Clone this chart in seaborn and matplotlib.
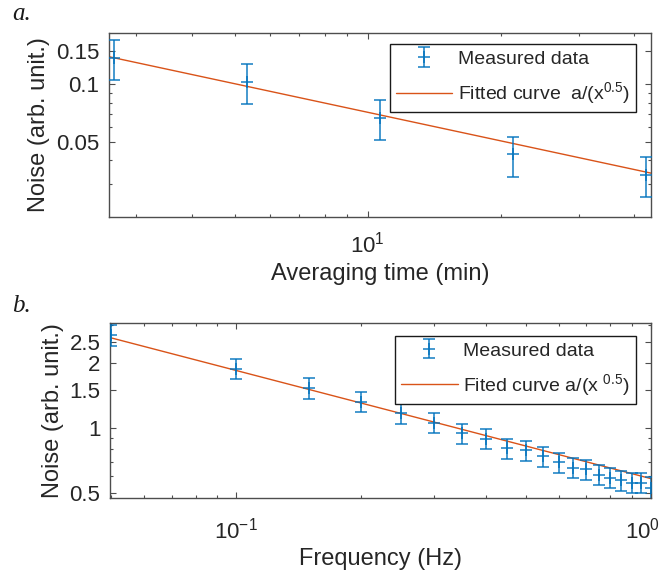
import numpy as np
import pandas as pd
import matplotlib
matplotlib.use("Agg")
import matplotlib.pyplot as plt
import matplotlib.ticker as mticker
import matplotlib.transforms as mtransforms
import seaborn as sns

# ---- data ----
time_a = [2.667, 5.333, 10.667, 21.333, 42.667]
noise_a = [0.138, 0.103, 0.0669, 0.043, 0.0336]
err_a = [0.033, 0.024, 0.0158, 0.0102, 0.0081]
fit_x_a = [2.6, 43.7]
fit_y_a = [0.1395, 0.0342]

freq_b = [0.05, 0.10, 0.15, 0.20, 0.25, 0.30, 0.35, 0.40, 0.45, 0.50,
          0.55, 0.60, 0.65, 0.70, 0.75, 0.80, 0.85, 0.90, 0.95, 1.00]
noise_b = [2.71, 1.886, 1.535, 1.327, 1.171, 1.062, 0.948, 0.894, 0.807, 0.792,
           0.742, 0.697, 0.657, 0.645, 0.610, 0.590, 0.575, 0.560, 0.560, 0.527]
err_b = [0.30, 0.20, 0.169, 0.141, 0.125, 0.115, 0.102, 0.095, 0.088, 0.084,
         0.080, 0.074, 0.070, 0.068, 0.064, 0.063, 0.061, 0.060, 0.060, 0.066]
fit_x_b = [0.05, 1.0]
fit_y_b = [2.62, 0.585]

yticks_a = [0.05, 0.1, 0.15]
yticklabels_a = ["0.05", "0.1", "0.15"]
xticks_a = [10]
xticklabels_a = ["$10^{1}$"]
yticks_b = [0.5, 1, 1.5, 2, 2.5]
yticklabels_b = ["0.5", "1", "1.5", "2", "2.5"]
xticks_b = [0.1, 1.0]
xticklabels_b = ["$10^{-1}$", "$10^{0}$"]

sns.set_theme(style="ticks")
plt.rcParams["font.family"] = ["Liberation Sans", "DejaVu Sans"]
plt.rcParams["mathtext.fontset"] = "custom"
plt.rcParams["mathtext.rm"] = "Liberation Sans"
plt.rcParams["mathtext.it"] = "Liberation Sans:italic"
plt.rcParams["mathtext.default"] = "regular"

BLUE = "#0072BD"
ORANGE = "#D95319"
AXC = "0.15"

fig = plt.figure(figsize=(6.63, 5.77), dpi=100)
ax_a = fig.add_axes([0.1644, 0.6244, 0.8175, 0.3178])
ax_b = fig.add_axes([0.1659, 0.1364, 0.8155, 0.3033])


def style_axes(ax, xpad):
    ax.set_xscale("log")
    ax.set_yscale("log")
    for s in ax.spines.values():
        s.set_color("0.3")
        s.set_linewidth(1.0)
    ax.tick_params(which="both", direction="in", top=True, right=True,
                   colors="0.3", labelcolor=AXC, labelsize=16, width=0.8)
    ax.tick_params(which="major", length=4)
    ax.tick_params(which="minor", length=2.5)
    ax.tick_params(axis="y", which="both", pad=7)
    ax.tick_params(axis="x", which="both", pad=xpad)
    ax.xaxis.set_minor_locator(mticker.LogLocator(base=10, subs=np.arange(2, 10), numticks=20))
    ax.yaxis.set_minor_locator(mticker.LogLocator(base=10, subs=np.arange(2, 10), numticks=20))
    ax.xaxis.set_minor_formatter(mticker.NullFormatter())
    ax.yaxis.set_minor_formatter(mticker.NullFormatter())


style_axes(ax_a, 11)
style_axes(ax_b, 14)

leg_kw = dict(loc="upper right", borderaxespad=0, fontsize=14, frameon=True,
              fancybox=False, edgecolor="k", framealpha=1, handlelength=2.9,
              handletextpad=0.3, labelspacing=0.65, borderpad=0.3)

# ---- panel a ----
df_fit_a = pd.DataFrame({"x": fit_x_a, "y": fit_y_a})
ax_a.errorbar(time_a, noise_a, yerr=err_a, fmt="+", color=BLUE,
              ecolor=BLUE, elinewidth=1.2, capsize=4.4, capthick=1.2,
              markersize=8.5, markeredgewidth=1.2, alpha=0.85,
              label="Measured data", zorder=3)
sns.lineplot(data=df_fit_a, x="x", y="y", ax=ax_a, color=ORANGE, linewidth=1.0,
             label="Fitted curve  a/(x$^{0.5}$)", zorder=2)
ax_a.set_xlim(2.6, 43.7)
ax_a.set_ylim(0.0202, 0.185)
ax_a.set_yticks(yticks_a)
ax_a.set_yticklabels(yticklabels_a)
ax_a.set_xticks(xticks_a)
ax_a.set_xticklabels(xticklabels_a)
ax_a.set_xlabel("Averaging time (min)", fontsize=17, color=AXC, labelpad=4)
ax_a.set_ylabel("Noise (arb. unit.)", fontsize=17, color=AXC, labelpad=4)
h, l = ax_a.get_legend_handles_labels()
order = [l.index("Measured data")] + [i for i in range(len(l)) if l[i] != "Measured data"]
leg_a = ax_a.legend([h[i] for i in order], [l[i] for i in order],
                    bbox_to_anchor=(0.9723, 0.94), **leg_kw)
leg_a.get_frame().set_linewidth(1.0)

# ---- panel b ----
df_fit_b = pd.DataFrame({"x": fit_x_b, "y": fit_y_b})
ax_b.errorbar(freq_b, noise_b, yerr=err_b, fmt="+", color=BLUE,
              ecolor=BLUE, elinewidth=1.2, capsize=4.2, capthick=1.2,
              markersize=8.5, markeredgewidth=1.2, alpha=0.85,
              label="Measured data", zorder=3)
sns.lineplot(data=df_fit_b, x="x", y="y", ax=ax_b, color=ORANGE, linewidth=1.0,
             label="Fited curve a/(x $^{0.5}$)", zorder=2)
ax_b.set_xlim(0.0497, 1.0)
ax_b.set_ylim(0.474, 3.06)
ax_b.set_yticks(yticks_b)
ax_b.set_yticklabels(yticklabels_b)
ax_b.set_xticks(xticks_b)
ax_b.set_xticklabels(xticklabels_b)
ax_b.set_xlabel("Frequency (Hz)", fontsize=17, color=AXC, labelpad=3)
ax_b.set_ylabel("Noise (arb. unit.)", fontsize=17, color=AXC, labelpad=4)
h, l = ax_b.get_legend_handles_labels()
order = [l.index("Measured data")] + [i for i in range(len(l)) if l[i] != "Measured data"]
leg_b = ax_b.legend([h[i] for i in order], [l[i] for i in order],
                    bbox_to_anchor=(0.973, 0.927), **leg_kw)
leg_b.get_frame().set_linewidth(1.0)

# shift the right-most tick label (10^0) slightly left so it stays in the figure
lbl = ax_b.get_xticklabels()[-1]
lbl.set_transform(lbl.get_transform() + mtransforms.ScaledTranslation(-6 / 72, 0, fig.dpi_scale_trans))

# panel letters
fig.text(0.018, 0.965, "a.", fontsize=18, style="italic",
         family=["Liberation Serif", "DejaVu Serif"], color="k", va="baseline")
fig.text(0.018, 0.459, "b.", fontsize=18, style="italic",
         family=["Liberation Serif", "DejaVu Serif"], color="k", va="baseline")

fig.savefig("out.png", dpi=100)
